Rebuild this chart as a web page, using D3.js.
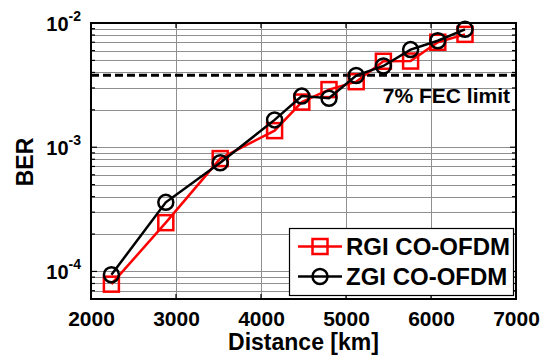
<!DOCTYPE html>
<html>
<head>
<meta charset="utf-8">
<script src="https://cdn.jsdelivr.net/npm/d3@7"></script>
<style>
  body { margin: 0; background: #fff; }
  svg { display: block; font-family: "Liberation Sans", Arial, sans-serif; font-weight: bold; }
</style>
</head>
<body>
<script>
// Data
var distance = [2240, 2880, 3520, 4160, 4480, 4800, 5120, 5440, 5760, 6080, 6400];
var berRGI = [7.9e-5, 2.47e-4, 8.1e-4, 1.36e-3, 2.31e-3, 2.91e-3, 3.37e-3, 4.92e-3, 4.94e-3, 7.0e-3, 8.1e-3];
var berZGI = [9.4e-5, 3.6e-4, 7.5e-4, 1.66e-3, 2.58e-3, 2.48e-3, 3.78e-3, 4.51e-3, 6.11e-3, 7.2e-3, 8.9e-3];
var xTicks = [2000, 3000, 4000, 5000, 6000, 7000];
var yMajor = [1e-4, 1e-3, 1e-2];
var yDomain = [6e-5, 1e-2];
var fecLimit = 3.8e-3;
var seriesNames = ["RGI CO-OFDM", "ZGI CO-OFDM"];

var width = 549, height = 356;
// plot box (note: "top" is reserved on window, so prefix everything)
var pLeft = 91, pRight = 516, pTop = 23, pBottom = 299;

var svg = d3.select("body").append("svg")
    .attr("width", width)
    .attr("height", height);

var x = d3.scaleLinear().domain([2000, 7000]).range([pLeft, pRight]);
var y = d3.scaleLog().domain(yDomain).range([pBottom, pTop]);

// grid
var grid = svg.append("g").attr("stroke", "#8f8f8f").attr("stroke-width", 1);
grid.selectAll("line.h").data(y.ticks()).enter().append("line")
    .attr("x1", pLeft).attr("x2", pRight)
    .attr("y1", function (d) { return Math.round(y(d)) + 0.5; })
    .attr("y2", function (d) { return Math.round(y(d)) + 0.5; });
grid.selectAll("line.v").data(xTicks.slice(1, -1)).enter().append("line")
    .attr("y1", pTop).attr("y2", pBottom)
    .attr("x1", function (d) { return Math.round(x(d)) + 0.5; })
    .attr("x2", function (d) { return Math.round(x(d)) + 0.5; });

// tick marks (inside, both sides)
var ticks = svg.append("g").attr("stroke", "#000").attr("stroke-width", 1.2);
y.ticks().forEach(function (d) {
    var len = yMajor.indexOf(d) >= 0 ? 6 : 4;
    var yy = y(d);
    ticks.append("line").attr("x1", pLeft).attr("x2", pLeft + len).attr("y1", yy).attr("y2", yy);
    ticks.append("line").attr("x1", pRight - len).attr("x2", pRight).attr("y1", yy).attr("y2", yy);
});
xTicks.forEach(function (d) {
    var xx = x(d);
    ticks.append("line").attr("x1", xx).attr("x2", xx).attr("y1", pBottom).attr("y2", pBottom - 5);
    ticks.append("line").attr("x1", xx).attr("x2", xx).attr("y1", pTop).attr("y2", pTop + 5);
});

// FEC limit
svg.append("line")
    .attr("x1", pLeft).attr("x2", pRight)
    .attr("y1", y(fecLimit)).attr("y2", y(fecLimit))
    .attr("stroke", "#000").attr("stroke-width", 3)
    .attr("stroke-dasharray", "8,4");
svg.append("text")
    .attr("x", 510).attr("y", y(fecLimit) + 28)
    .attr("text-anchor", "end")
    .style("font-size", "21px")
    .text("7% FEC limit");

// series
var line = d3.line()
    .x(function (d) { return x(d[0]); })
    .y(function (d) { return y(d[1]); });

var rgi = d3.zip(distance, berRGI);
var zgi = d3.zip(distance, berZGI);

svg.append("path").datum(rgi)
    .attr("d", line).attr("fill", "none")
    .attr("stroke", "#ff0000").attr("stroke-width", 2.5);
svg.append("g").selectAll("rect").data(rgi).enter().append("rect")
    .attr("x", function (d) { return x(d[0]) - 7.5; })
    .attr("y", function (d) { return y(d[1]) - 7.5; })
    .attr("width", 15).attr("height", 15)
    .attr("fill", "none").attr("stroke", "#ff0000").attr("stroke-width", 2.5);

svg.append("path").datum(zgi)
    .attr("d", line).attr("fill", "none")
    .attr("stroke", "#000").attr("stroke-width", 2.5);
svg.append("g").selectAll("circle").data(zgi).enter().append("circle")
    .attr("cx", function (d) { return x(d[0]); })
    .attr("cy", function (d) { return y(d[1]); })
    .attr("r", 7.5)
    .attr("fill", "none").attr("stroke", "#000").attr("stroke-width", 2.5);

// frame
svg.append("rect")
    .attr("x", pLeft).attr("y", pTop)
    .attr("width", pRight - pLeft).attr("height", pBottom - pTop)
    .attr("fill", "none").attr("stroke", "#000").attr("stroke-width", 2);

// x axis labels
var xAxis = d3.axisBottom(x).tickValues(xTicks).tickSize(0).tickPadding(12)
    .tickFormat(d3.format("d"));
var gx = svg.append("g").attr("transform", "translate(0," + pBottom + ")").call(xAxis);
gx.select(".domain").remove();
gx.selectAll("text")
    .attr("fill", "#000")
    .style("font-size", "21px")
    .style("font-family", "'Liberation Sans', Arial, sans-serif")
    .style("font-weight", "bold");

// y axis labels with superscripts
var gy = svg.append("g");
gy.selectAll("text").data(yMajor).enter().append("text")
    .attr("x", 81)
    .attr("y", function (d) { return y(d) + 8; })
    .attr("text-anchor", "end")
    .each(function (d) {
        var t = d3.select(this);
        t.append("tspan").style("font-size", "20px").text("10");
        t.append("tspan").style("font-size", "14px").attr("dy", -10)
            .text(String(Math.round(Math.log10(d))));
    });

// axis titles
svg.append("text")
    .attr("x", (pLeft + pRight) / 2).attr("y", 350)
    .attr("text-anchor", "middle")
    .style("font-size", "23px")
    .text("Distance [km]");
svg.append("text")
    .attr("transform", "translate(33," + 162 + ") rotate(-90)")
    .attr("text-anchor", "middle")
    .style("font-size", "23px")
    .text("BER");

// legend
var lg = svg.append("g");
lg.append("rect")
    .attr("x", 289.5).attr("y", 228.5)
    .attr("width", 224).attr("height", 67)
    .attr("fill", "#fff").attr("stroke", "#000").attr("stroke-width", 1.2);
var rowY = [246.5, 276.5];
var rowColor = ["#ff0000", "#000"];
seriesNames.forEach(function (name, i) {
    lg.append("line")
        .attr("x1", 298).attr("x2", 342)
        .attr("y1", rowY[i]).attr("y2", rowY[i])
        .attr("stroke", rowColor[i]).attr("stroke-width", 2.5);
    if (i === 0) {
        lg.append("rect")
            .attr("x", 320 - 7.5).attr("y", rowY[i] - 7.5)
            .attr("width", 15).attr("height", 15)
            .attr("fill", "none").attr("stroke", rowColor[i]).attr("stroke-width", 2.5);
    } else {
        lg.append("circle")
            .attr("cx", 320).attr("cy", rowY[i]).attr("r", 7.5)
            .attr("fill", "none").attr("stroke", rowColor[i]).attr("stroke-width", 2.5);
    }
    lg.append("text")
        .attr("x", 346).attr("y", rowY[i] + 8.5)
        .style("font-size", "24px")
        .text(name);
});
</script>
</body>
</html>
